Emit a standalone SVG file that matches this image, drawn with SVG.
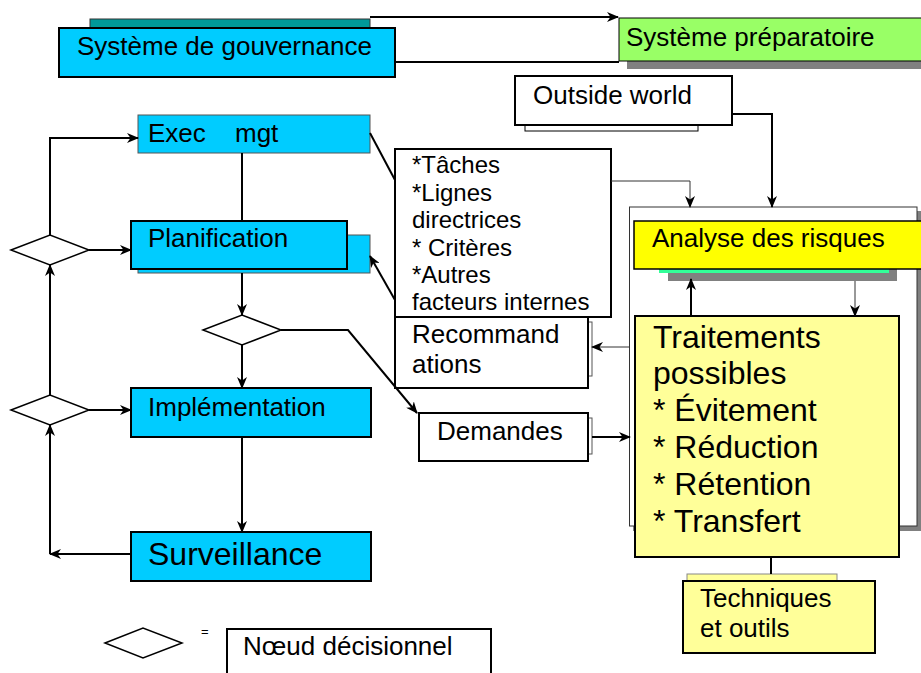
<svg xmlns="http://www.w3.org/2000/svg" width="921" height="673" viewBox="0 0 921 673">
  <style>
    text { font-family: "Liberation Sans", Arial, sans-serif; fill: #000; }
    .t26 { font-size: 26px; }
    .t24 { font-size: 24px; }
    .t32 { font-size: 32px; }
    .cyan { fill: #00CCFF; stroke: #000; stroke-width: 2; }
    .cyan-thin { fill: #00CCFF; stroke: #555; stroke-width: 1; }
    .white { fill: #fff; stroke: #000; stroke-width: 2; }
    .shadow { fill: #808080; stroke: none; }
    .diamond { fill: #fff; stroke: #000; stroke-width: 1.5; }
    .wire { fill: none; stroke: #000; stroke-width: 2; }
    .wire-thin { fill: none; stroke: #333; stroke-width: 1; }
  </style>
  <defs>
    <marker id="arr" viewBox="0 0 12 10" refX="11" refY="5" markerWidth="12" markerHeight="10" orient="auto" markerUnits="userSpaceOnUse">
      <path d="M0,0 L12,5 L0,10 L3.5,5 z" fill="#000"/>
    </marker>
  </defs>

  <rect width="921" height="673" fill="#fff"/>

  <g id="gouvernance">
    <rect x="90" y="19" width="280" height="9" fill="#009999" stroke="#333" stroke-width="1"/>
    <rect x="59" y="28" width="336" height="49" class="cyan"/>
    <text x="77" y="55" class="t26">Système de gouvernance</text>
  </g>

  <g id="preparatoire">
    <rect x="627" y="61" width="300" height="8" class="shadow"/>
    <rect x="619" y="18" width="306" height="43" fill="#99FF66" stroke="#000" stroke-width="1"/>
    <text x="626" y="46" class="t26">Système préparatoire</text>
  </g>

  <g id="outside-world">
    <rect x="525" y="125" width="173" height="6" fill="#fff" stroke="#000" stroke-width="1"/>
    <rect x="515" y="76" width="217" height="49" class="white"/>
    <text x="533" y="104" class="t26">Outside world</text>
  </g>

  <g id="exec-mgt">
    <rect x="138" y="115" width="232" height="38" class="cyan-thin"/>
    <text x="148" y="142" class="t26">Exec<tspan x="235">mgt</tspan></text>
  </g>

  <g id="planification">
    <rect x="138" y="235" width="232" height="38" class="cyan-thin"/>
    <rect x="131" y="221" width="216" height="48" class="cyan"/>
    <text x="148" y="247" class="t26">Planification</text>
  </g>

  <g id="implementation">
    <rect x="131" y="388" width="240" height="49" class="cyan"/>
    <text x="148" y="416" class="t26">Implémentation</text>
  </g>

  <g id="surveillance">
    <rect x="131" y="532" width="240" height="49" class="cyan"/>
    <text x="148" y="565" class="t32">Surveillance</text>
  </g>

  <g id="decision-1">
    <polygon points="11,250 50,235 89,250 50,265" class="diamond"/>
  </g>
  <g id="decision-2">
    <polygon points="11,410 50,395 89,410 50,425" class="diamond"/>
  </g>
  <g id="decision-3">
    <polygon points="203,330 242,315 281,330 242,345" class="diamond"/>
  </g>

  <g id="recommandations">
    <rect x="587" y="322" width="5" height="54" fill="#fff" stroke="#555" stroke-width="1"/>
    <rect x="395" y="317" width="193" height="71" class="white"/>
    <text x="412" y="343" class="t26">Recommand</text>
    <text x="412" y="373" class="t26">ations</text>
  </g>

  <g id="facteurs">
    <rect x="395" y="149" width="216" height="168" class="white"/>
    <text x="412" y="173" class="t24">*Tâches</text>
    <text x="412" y="201" class="t24">*Lignes</text>
    <text x="412" y="228" class="t24">directrices</text>
    <text x="412" y="256" class="t24">* Critères</text>
    <text x="412" y="283" class="t24">*Autres</text>
    <text x="412" y="310" class="t24">facteurs internes</text>
  </g>

  <g id="demandes">
    <rect x="587" y="418" width="5" height="36" fill="#fff" stroke="#555" stroke-width="1"/>
    <rect x="419" y="413" width="169" height="48" class="white"/>
    <text x="437" y="440" class="t26">Demandes</text>
  </g>

  <g id="gestion-risques">
    <rect x="633" y="211" width="290" height="320" class="shadow"/>
    <rect x="629.5" y="207" width="287.5" height="319" fill="#fff" stroke="#333" stroke-width="1"/>
  </g>

  <g id="analyse">
    <rect x="668" y="269" width="229" height="12" class="shadow"/>
    <rect x="659" y="269" width="230" height="4" fill="#33FF99"/>
    <rect x="634" y="221" width="288" height="48" fill="#FFFF00" stroke="#000" stroke-width="1.5"/>
    <text x="652" y="247" class="t26">Analyse des risques</text>
  </g>

  <g id="traitements">
    <rect x="635" y="316" width="264" height="241" fill="#FFFF99" stroke="#000" stroke-width="2"/>
    <text x="653" y="348" class="t32">Traitements</text>
    <text x="653" y="384" class="t32">possibles</text>
    <text x="653" y="421" class="t32">* Évitement</text>
    <text x="653" y="458" class="t32">* Réduction</text>
    <text x="653" y="495" class="t32">* Rétention</text>
    <text x="653" y="532" class="t32">* Transfert</text>
  </g>

  <g id="techniques">
    <rect x="687" y="574" width="150" height="8" fill="#FFFF99" stroke="#888" stroke-width="1"/>
    <rect x="683" y="581" width="192" height="72" fill="#FFFF99" stroke="#000" stroke-width="2"/>
    <text x="700" y="607" class="t26">Techniques</text>
    <text x="700" y="637" class="t26">et outils</text>
  </g>

  <g id="legend">
    <polygon points="105,643 143,628 182,643 143,658" class="diamond"/>
    <text x="201" y="636" font-size="13">=</text>
    <rect x="227" y="629" width="264" height="60" class="white"/>
    <text x="243" y="655" class="t26">Nœud décisionnel</text>
  </g>

  <g id="connectors">
    <path d="M370,17 H618" class="wire" marker-end="url(#arr)"/>
    <path d="M395,62 H619" class="wire"/>
    <path d="M732,114 H772 V207" class="wire" marker-end="url(#arr)"/>
    <path d="M611,181 H690 V207" class="wire-thin" marker-end="url(#arr)"/>
    <path d="M370,133 L395,180" class="wire"/>
    <path d="M395,300 L370,256" class="wire" marker-end="url(#arr)"/>
    <path d="M242,153 V221" class="wire"/>
    <path d="M50,235 V138 H138" class="wire" marker-end="url(#arr)"/>
    <path d="M89,250 H131" class="wire" marker-end="url(#arr)"/>
    <path d="M50,395 V265" class="wire" marker-end="url(#arr)"/>
    <path d="M89,410 H131" class="wire" marker-end="url(#arr)"/>
    <path d="M131,554 H50" class="wire" marker-end="url(#arr)"/>
    <path d="M50,554 V425" class="wire" marker-end="url(#arr)"/>
    <path d="M242,273 V315" class="wire" marker-end="url(#arr)"/>
    <path d="M242,345 V388" class="wire" marker-end="url(#arr)"/>
    <path d="M242,437 V532" class="wire" marker-end="url(#arr)"/>
    <path d="M281,330 H348 L417,413" class="wire" marker-end="url(#arr)"/>
    <path d="M592,437 H630" class="wire" marker-end="url(#arr)"/>
    <path d="M630,347 H592" class="wire-thin" stroke-width="1.5" marker-end="url(#arr)"/>
    <path d="M691,316 V279" class="wire" marker-end="url(#arr)"/>
    <path d="M855,281 V316" class="wire-thin" stroke-width="1.5" marker-end="url(#arr)"/>
    <path d="M771,557 V574" class="wire"/>
  </g>
</svg>
